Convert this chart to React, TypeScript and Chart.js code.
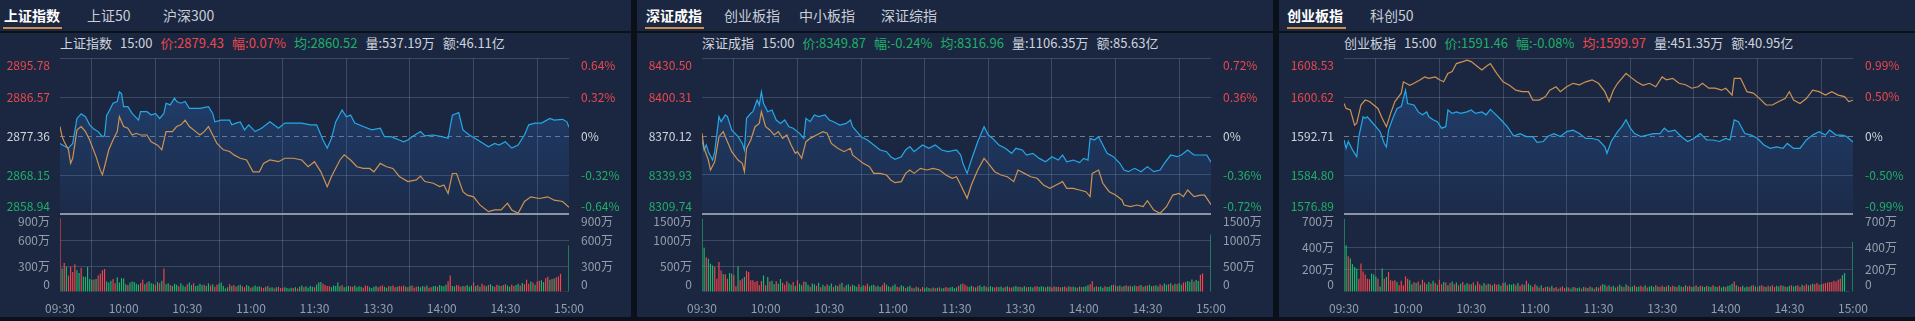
import React, { useEffect, useRef } from 'react';
import { Chart, registerables } from 'chart.js';

Chart.register(...registerables);

const FONT = '"Microsoft YaHei", "Noto Sans CJK SC", "Noto Sans", sans-serif';
Chart.defaults.font.family = FONT;

const RED = '#ec474d';
const GREEN = '#1faf68';
const TEXT = '#cfd4dc';
const AXIS_TEXT = '#959dab';
const GRID = 'rgba(148,160,186,0.28)';
const SEP = '#8e96a6';
const DASH = '#737b8a';
const BLUE = '#25a8e6';
const ORANGE = '#cf9352';
const BAR_UP = '#f2464a';
const BAR_DOWN = '#22b56c';
const PANEL_BG = '#1b2741';
const PAGE_BG = '#0b111b';

// ---------- shared axis data ----------
const TIME_MINUTES = [0, 30, 60, 90, 120, 150, 180, 210, 240];
const TIME_TICKS = ['09:30', '10:00', '10:30', '11:00', '11:30', '13:30', '14:00', '14:30', '15:00'];

// ---------- 上证指数 ----------
const SH_TABS = ['上证指数', '上证50', '沪深300'];
const SH_QUOTE = ['上证指数', '15:00', '2879.43', '0.07%', '2860.52', '537.19万', '46.11亿'];
const SH_PREV = 2877.36;
const SH_PRICE_TICKS = [2858.94, 2868.15, 2877.36, 2886.57, 2895.78];
const SH_PCT_TICKS = [-0.64, -0.32, 0, 0.32, 0.64];
const SH_PCT_LABELS = ['-0.64%', '-0.32%', '0%', '0.32%', '0.64%'];
const SH_VOL_TICKS = [0, 300, 600, 900];
const SH_VOL_LABELS = ['0', '300万', '600万', '900万'];
const SH_PRICE: [number, number][] = [[0,2875.6],[1,2875.3],[2,2875.0],[4,2874.5],[6,2875.6],[8,2881.5],[10,2882.6],[12,2881.9],[14,2880.0],[16,2879.0],[18,2878.4],[20,2877.2],[21,2877.4],[22,2882.3],[23,2883.1],[25,2885.1],[27,2885.5],[28,2887.8],[29,2887.4],[30,2884.3],[32,2884.3],[34,2882.7],[37,2881.1],[38,2883.1],[41,2883.1],[43,2882.3],[45,2882.7],[47,2881.5],[49,2882.7],[50,2885.1],[52,2884.7],[54,2886.3],[55,2885.5],[57,2885.1],[59,2885.5],[61,2883.9],[63,2883.9],[66,2883.9],[70,2884.3],[72,2882.7],[73,2880.7],[76,2881.1],[80,2881.1],[81,2880.0],[83,2880.4],[85,2880.7],[87,2878.8],[89,2880.0],[92,2878.4],[95,2879.2],[99,2880.7],[103,2879.2],[106,2880.4],[110,2880.4],[114,2880.4],[118,2880.0],[121,2880.0],[124,2876.4],[126,2874.5],[128,2876.8],[130,2880.7],[133,2883.5],[135,2881.9],[137,2882.3],[139,2880.4],[143,2879.6],[147,2878.8],[151,2879.2],[153,2877.2],[156,2877.2],[160,2876.4],[162,2876.0],[164,2876.4],[166,2877.2],[170,2878.4],[172,2877.4],[176,2877.6],[180,2877.2],[183,2876.8],[185,2882.3],[188,2882.9],[190,2878.8],[193,2877.6],[197,2876.4],[202,2874.8],[205,2875.6],[207,2875.2],[210,2876.0],[213,2874.5],[216,2875.2],[219,2877.6],[221,2880.0],[224,2880.4],[227,2880.4],[231,2881.5],[233,2881.1],[237,2881.3],[239,2880.7],[240,2879.43]];
const SH_AVG: [number, number][] = [[0,2879.6],[1,2877.2],[2,2876.0],[4,2874.1],[5,2870.9],[6,2872.1],[8,2878.8],[10,2879.6],[12,2878.4],[14,2876.4],[17,2872.5],[19,2869.3],[20,2868.2],[21,2870.1],[23,2874.1],[25,2876.4],[27,2878.4],[28,2881.9],[30,2879.6],[32,2879.2],[34,2877.6],[36,2878.0],[38,2877.6],[41,2877.6],[43,2876.0],[46,2875.2],[48,2874.1],[50,2878.4],[53,2878.4],[55,2879.6],[57,2880.0],[59,2881.1],[61,2879.6],[64,2878.4],[66,2877.6],[68,2878.4],[70,2879.6],[72,2877.6],[74,2875.6],[77,2874.1],[80,2873.7],[82,2872.9],[85,2872.1],[88,2871.7],[91,2868.9],[94,2868.9],[96,2870.9],[99,2871.7],[103,2871.3],[106,2872.1],[110,2872.1],[114,2871.7],[117,2870.1],[120,2871.3],[123,2868.9],[126,2865.4],[128,2867.8],[132,2871.7],[134,2872.9],[137,2871.7],[140,2870.1],[143,2869.7],[146,2869.7],[148,2868.9],[151,2870.9],[154,2870.1],[157,2869.7],[160,2867.8],[164,2866.6],[168,2867.0],[170,2867.9],[172,2866.6],[176,2866.2],[179,2865.4],[181,2865.8],[183,2863.8],[185,2868.5],[187,2868.5],[190,2864.2],[192,2863.4],[195,2863.0],[198,2861.1],[202,2859.5],[205,2859.9],[208,2859.9],[211,2861.5],[213,2859.9],[216,2859.1],[219,2861.9],[222,2863.0],[226,2862.6],[230,2863.0],[233,2862.2],[237,2861.9],[240,2860.52]];
const SH_VOL = [
  850,270,335,290,190,290,230,320,250,220,
  280,180,175,290,150,140,145,150,190,210,
  250,265,120,110,130,150,100,170,110,160,
  155,90,80,110,120,115,95,85,105,140,
  90,110,125,100,95,80,115,100,130,270,
  90,100,80,70,95,85,65,100,75,60,
  90,110,80,100,70,75,95,80,85,70,
  100,75,90,60,85,95,110,70,40,55,
  90,70,80,60,75,85,65,55,80,70,
  50,60,75,60,65,55,45,60,70,50,
  55,40,55,60,45,50,55,45,40,50,
  45,55,40,60,75,55,65,50,70,60,
  55,85,110,115,95,80,70,65,55,75,
  70,110,65,80,55,60,70,65,60,75,
  55,65,60,50,75,70,55,45,60,70,
  55,65,75,60,50,70,65,75,55,60,
  70,65,75,60,55,70,75,50,60,65,
  55,70,60,75,50,55,65,70,60,80,
  70,65,85,125,190,70,65,80,75,60,
  70,65,80,60,75,110,70,80,60,95,
  75,65,80,90,70,60,85,75,70,80,
  90,75,60,85,70,80,95,75,105,90,
  140,95,120,110,85,120,130,135,115,160,
  175,140,150,155,170,180,210,10,8,12,
  540,
];
// r = up minute (red bar), g = down minute (green bar)
const SH_DIR = [
  'rgrgrrrrgg','rgggggrgrr','rrgggrrggg','ggrgggggrr','grgggrgrgr','ggrgggrggg',
  'rggrggggrg','grgrrggggg','rgrrggrrgg','rggggrrgrg','grgrrrgggg','rgrggrgggg',
  'rgggrrrrgg','gggrgggrrg','gggrrrgggg','rrrggrgrrg','rrrgrgrrrg','ggrgrrggrg',
  'gggrrggrrr','grgggrgrgr','rgrggrrgrg','rggrrggrgr','rrgrgrrggr','rgrgrrrrrr','g',
];

// ---------- 深证成指 ----------
const SZ_TABS = ['深证成指', '创业板指', '中小板指', '深证综指'];
const SZ_QUOTE = ['深证成指', '15:00', '8349.87', '-0.24%', '8316.96', '1106.35万', '85.63亿'];
const SZ_PREV = 8370.12;
const SZ_PRICE_TICKS = [8309.74, 8339.93, 8370.12, 8400.31, 8430.50];
const SZ_PCT_TICKS = [-0.72, -0.36, 0, 0.36, 0.72];
const SZ_PCT_LABELS = ['-0.72%', '-0.36%', '0%', '0.36%', '0.72%'];
const SZ_VOL_TICKS = [0, 500, 1000, 1500];
const SZ_VOL_LABELS = ['0', '500万', '1000万', '1500万'];
const SZ_PRICE: [number, number][] = [[0,8367.0],[1,8359.3],[2,8363.2],[3,8358.0],[5,8351.5],[6,8358.0],[8,8385.1],[9,8381.2],[11,8386.4],[12,8385.1],[14,8374.8],[17,8369.6],[19,8364.4],[20,8359.3],[21,8383.8],[23,8387.7],[24,8388.9],[26,8398.0],[27,8394.1],[28,8404.4],[29,8395.4],[31,8388.9],[33,8390.2],[35,8382.5],[37,8379.9],[39,8382.5],[41,8377.3],[43,8376.1],[45,8373.5],[46,8372.2],[48,8368.3],[49,8383.8],[51,8381.2],[53,8386.4],[55,8385.1],[58,8386.4],[60,8382.5],[62,8381.2],[65,8378.6],[68,8379.9],[70,8382.5],[71,8377.3],[73,8373.5],[75,8369.6],[78,8367.0],[81,8363.2],[84,8359.3],[87,8358.0],[89,8354.1],[91,8352.1],[94,8354.1],[96,8359.3],[98,8361.9],[100,8358.0],[102,8360.6],[104,8363.2],[107,8360.6],[110,8363.2],[113,8359.3],[116,8358.0],[120,8359.3],[122,8355.4],[123,8349.0],[125,8341.2],[127,8351.5],[130,8365.7],[133,8377.3],[135,8370.9],[137,8368.3],[140,8363.2],[143,8360.6],[146,8356.7],[148,8360.6],[151,8359.3],[153,8355.4],[156,8356.7],[159,8352.8],[162,8350.2],[165,8354.1],[168,8351.5],[170,8355.4],[172,8350.2],[175,8351.5],[178,8349.5],[180,8352.8],[182,8351.5],[183,8368.3],[185,8367.0],[187,8369.6],[189,8363.2],[191,8356.7],[194,8354.1],[197,8349.0],[199,8343.8],[201,8342.5],[204,8345.1],[207,8342.5],[210,8346.4],[213,8342.5],[216,8343.8],[218,8349.0],[221,8355.4],[224,8354.1],[226,8355.4],[229,8359.3],[232,8355.4],[235,8355.4],[238,8355.4],[240,8349.87]];
const SZ_AVG: [number, number][] = [[0,8372.2],[1,8360.6],[3,8351.5],[4,8343.8],[6,8350.2],[8,8369.6],[10,8373.5],[12,8365.7],[14,8358.0],[17,8351.5],[19,8349.0],[20,8342.5],[21,8360.6],[23,8367.0],[25,8377.3],[27,8379.9],[28,8388.9],[30,8377.3],[32,8374.8],[34,8370.9],[36,8373.5],[38,8368.3],[40,8370.9],[42,8363.2],[44,8356.7],[45,8358.0],[47,8352.8],[49,8365.7],[51,8368.3],[54,8370.9],[57,8373.5],[59,8372.2],[61,8364.4],[64,8360.6],[67,8358.0],[70,8360.6],[71,8355.4],[73,8352.8],[76,8349.0],[79,8346.4],[81,8341.2],[84,8341.2],[87,8339.9],[89,8336.1],[91,8334.0],[94,8334.8],[96,8341.2],[98,8343.8],[100,8341.2],[103,8345.1],[106,8343.8],[109,8345.1],[112,8343.8],[115,8339.9],[118,8337.4],[120,8338.6],[122,8332.2],[125,8321.9],[127,8332.2],[130,8343.8],[133,8352.8],[135,8349.0],[138,8342.5],[141,8339.9],[144,8338.6],[147,8334.8],[149,8343.8],[152,8341.2],[155,8338.6],[158,8337.4],[161,8332.2],[164,8329.6],[167,8332.2],[170,8334.8],[172,8329.6],[175,8329.6],[178,8328.3],[181,8327.0],[183,8323.2],[184,8341.2],[187,8343.8],[189,8333.5],[192,8327.0],[195,8324.4],[198,8320.6],[199,8316.7],[202,8315.4],[205,8316.7],[208,8315.4],[210,8320.0],[213,8312.8],[216,8310.3],[219,8315.4],[222,8324.4],[225,8325.7],[227,8323.2],[229,8328.3],[232,8323.2],[235,8324.4],[237,8324.4],[240,8316.96]];
const SZ_VOL = [
  1410,850,670,640,545,510,480,255,575,415,
  340,340,255,365,350,320,110,495,225,255,
  290,405,385,225,225,190,210,130,210,320,
  130,290,200,215,150,205,160,250,180,140,
  205,170,140,190,120,225,160,130,200,190,
  140,100,165,150,120,180,90,140,110,150,
  120,165,100,130,115,150,180,90,130,150,
  110,140,120,100,150,95,130,120,160,110,
  130,140,105,120,95,130,180,140,110,90,
  120,150,100,90,130,110,75,95,120,80,
  70,100,85,60,95,70,90,75,65,85,
  70,80,90,65,75,95,80,85,100,70,
  90,120,150,165,140,110,95,120,100,85,
  110,130,95,120,100,90,110,95,85,100,
  90,105,80,95,110,90,85,100,115,95,
  100,85,110,90,95,100,85,105,110,95,
  110,100,90,105,100,85,110,95,100,90,
  95,105,85,110,95,100,90,80,105,95,
  100,110,130,150,205,90,110,95,105,80,
  110,95,100,130,140,120,110,125,100,115,
  130,110,120,105,125,110,120,135,100,115,
  125,140,110,120,130,105,150,120,165,140,
  150,170,130,160,150,175,140,180,190,210,
  195,240,200,230,210,330,355,12,10,8,
  1106,
];
const SZ_DIR = [
  'ggrgggrrrr','grrggrrgrr','grrrrrrrrg','rgrggrggrr','rggrgrggrg','grggrgrggr',
  'ggrggrgrgg','rgggrggrrg','ggrggrrggr','ggrrggrggr','grgrrgggrg','rgrggrrggg',
  'grgrrrggrg','rgggrgggrr','gggrgrrggg','rggrgggrrg','ggrggrrgrr','grrgrggrgr',
  'gggrrgrggg','rgggrgrgrg','rgrggrrgrg','rggrggrrgg','rgrgrggrrg','ggrggrrggg','g',
];

// ---------- 创业板指 ----------
const CYB_TABS = ['创业板指', '科创50'];
const CYB_QUOTE = ['创业板指', '15:00', '1591.46', '-0.08%', '1599.97', '451.35万', '40.95亿'];
const CYB_PREV = 1592.71;
const CYB_PRICE_TICKS = [1576.89, 1584.80, 1592.71, 1600.62, 1608.53];
const CYB_PCT_TICKS = [-0.99, -0.50, 0, 0.50, 0.99];
const CYB_PCT_LABELS = ['-0.99%', '-0.50%', '0%', '0.50%', '0.99%'];
const CYB_VOL_TICKS = [0, 200, 400, 700];
const CYB_VOL_LABELS = ['0', '200万', '400万', '700万'];
const CYB_PRICE: [number, number][] = [[0,1591.9],[1,1590.2],[2,1591.6],[4,1589.9],[6,1588.5],[7,1592.6],[9,1596.6],[10,1596.3],[11,1596.6],[13,1595.6],[15,1594.6],[17,1593.6],[19,1591.2],[20,1590.5],[21,1593.9],[23,1596.3],[25,1598.3],[27,1598.7],[29,1602.0],[30,1599.3],[33,1599.0],[35,1597.6],[37,1597.0],[39,1597.6],[40,1596.6],[42,1596.0],[44,1595.6],[46,1594.3],[48,1594.6],[49,1598.0],[51,1597.3],[53,1597.6],[55,1597.3],[58,1597.6],[60,1598.0],[62,1597.3],[65,1597.6],[67,1597.0],[69,1598.1],[71,1597.3],[74,1596.0],[77,1594.6],[80,1592.7],[83,1593.2],[86,1592.6],[89,1592.6],[91,1591.4],[94,1591.6],[96,1592.6],[99,1593.2],[102,1592.6],[105,1593.6],[108,1593.9],[111,1593.2],[114,1592.2],[117,1592.2],[120,1591.9],[123,1590.5],[124,1589.2],[126,1591.6],[129,1593.6],[131,1594.6],[133,1596.0],[135,1594.3],[137,1593.2],[140,1592.6],[143,1592.9],[146,1593.2],[149,1593.2],[151,1594.3],[153,1593.6],[156,1593.9],[159,1592.6],[162,1591.6],[165,1592.2],[168,1593.2],[171,1591.9],[174,1591.9],[177,1591.6],[180,1592.2],[182,1591.9],[184,1596.0],[186,1595.6],[189,1593.2],[192,1592.9],[195,1592.2],[198,1590.9],[201,1590.2],[204,1590.5],[207,1590.2],[209,1591.2],[212,1590.2],[215,1590.2],[218,1591.9],[221,1592.9],[224,1593.6],[227,1592.9],[229,1593.9],[232,1592.9],[235,1592.9],[237,1592.6],[240,1591.46]];
const CYB_AVG: [number, number][] = [[0,1599.3],[1,1598.3],[3,1598.0],[5,1594.9],[6,1595.3],[8,1599.0],[10,1600.0],[12,1599.7],[14,1599.0],[16,1598.3],[18,1596.3],[20,1594.6],[22,1597.3],[24,1599.7],[27,1601.4],[28,1603.7],[31,1603.0],[33,1603.4],[36,1604.1],[38,1604.7],[40,1604.4],[43,1604.7],[45,1604.1],[47,1603.7],[49,1605.4],[51,1605.8],[53,1607.4],[56,1607.8],[58,1608.1],[60,1607.8],[62,1607.1],[65,1606.1],[67,1606.8],[69,1607.4],[72,1605.4],[75,1603.7],[78,1603.0],[81,1602.0],[84,1601.7],[87,1601.7],[89,1600.0],[92,1600.0],[95,1600.7],[97,1602.0],[100,1602.7],[102,1601.7],[105,1602.7],[108,1603.4],[111,1603.1],[114,1603.7],[117,1604.1],[120,1603.4],[123,1601.7],[125,1599.7],[127,1602.0],[129,1603.4],[133,1605.4],[135,1604.7],[138,1603.7],[141,1603.0],[144,1603.4],[147,1602.7],[150,1604.7],[152,1604.1],[155,1604.4],[158,1603.4],[161,1603.1],[164,1602.4],[167,1602.7],[169,1603.4],[172,1602.4],[175,1602.4],[178,1602.0],[180,1602.4],[183,1601.0],[184,1604.4],[187,1604.4],[190,1601.7],[193,1601.4],[196,1600.3],[199,1599.0],[202,1599.0],[205,1599.7],[208,1600.3],[210,1601.7],[212,1600.0],[215,1599.3],[218,1600.3],[221,1602.0],[224,1601.7],[227,1601.0],[230,1601.7],[233,1601.0],[236,1600.7],[238,1599.7],[240,1599.97]];
const CYB_VOL = [
  658,420,320,300,250,225,210,120,255,185,
  158,120,115,165,158,140,120,50,210,120,
  135,180,105,100,105,90,60,100,60,140,
  120,105,70,90,80,95,65,110,85,70,
  90,75,100,80,65,110,70,90,85,60,
  80,95,70,85,60,75,90,65,80,70,
  70,85,60,95,70,55,80,65,75,70,
  60,75,65,70,55,80,85,60,70,65,
  75,60,80,55,70,65,100,75,60,45,
  70,55,40,60,35,45,50,40,55,35,
  45,30,40,50,35,45,40,30,45,40,
  35,40,30,45,40,35,50,40,30,45,
  40,55,70,65,50,60,45,55,40,50,
  65,50,45,70,55,45,50,60,45,50,
  55,45,60,40,50,55,45,60,50,45,
  55,45,50,60,45,55,50,45,60,50,
  45,60,50,55,45,50,60,45,55,50,
  45,55,50,45,60,50,45,55,40,50,
  45,55,60,75,95,60,50,45,55,40,
  50,45,55,60,50,45,55,60,50,45,
  55,50,60,45,55,50,60,55,50,45,
  55,60,50,55,60,45,65,55,70,60,
  65,75,70,80,65,70,75,80,85,90,
  90,100,95,110,120,150,170,8,6,5,
  451,
];
const CYB_DIR = [
  'ggrggggrrr','rrrgggrggr','grrrrgrrrr','rggrgrgrrg','grgrgrrgrg','rgrgrgrggr',
  'grgrrggrgr','grrggrgrgg','grgrrgrggr','rgrgrrgrgr','rgrrrgrggr','ggrgrgrgrg',
  'rrggrgrggr','ggrgrggrgg','rrgrgggrgr','rgrgrrgrgg','rgrrggrgrg','grggrggrgg',
  'rgggrgrrgg','grgrgrgrrg','rgrrggrgrg','grggrrgrrg','rgrrrgrrrr','rrrrrggggg','g',
];

// ---------- layout (positions only) ----------
const PANEL_W = 636;
const PANEL_H = 317;
const CANVAS_TOP = 50;
const CANVAS_H = 267;

interface PanelDef {
  left: number;
  tabX: number[];
  tabs: string[];
  quote: string[];
  prev: number;
  priceTicks: number[];
  pctTicks: number[];
  pctLabels: string[];
  volTicks: number[];
  volLabels: string[];
  price: [number, number][];
  avg: [number, number][];
  vol: number[];
  dir: string[];
}

const PANELS: PanelDef[] = [
  { left: -5, tabX: [9, 92, 168], tabs: SH_TABS, quote: SH_QUOTE, prev: SH_PREV, priceTicks: SH_PRICE_TICKS, pctTicks: SH_PCT_TICKS, pctLabels: SH_PCT_LABELS, volTicks: SH_VOL_TICKS, volLabels: SH_VOL_LABELS, price: SH_PRICE, avg: SH_AVG, vol: SH_VOL, dir: SH_DIR },
  { left: 637, tabX: [9, 87, 162, 244], tabs: SZ_TABS, quote: SZ_QUOTE, prev: SZ_PREV, priceTicks: SZ_PRICE_TICKS, pctTicks: SZ_PCT_TICKS, pctLabels: SZ_PCT_LABELS, volTicks: SZ_VOL_TICKS, volLabels: SZ_VOL_LABELS, price: SZ_PRICE, avg: SZ_AVG, vol: SZ_VOL, dir: SZ_DIR },
  { left: 1279, tabX: [8, 91], tabs: CYB_TABS, quote: CYB_QUOTE, prev: CYB_PREV, priceTicks: CYB_PRICE_TICKS, pctTicks: CYB_PCT_TICKS, pctLabels: CYB_PCT_LABELS, volTicks: CYB_VOL_TICKS, volLabels: CYB_VOL_LABELS, price: CYB_PRICE, avg: CYB_AVG, vol: CYB_VOL, dir: CYB_DIR },
];

function edge(label: string, i: number, n: number): string | string[] {
  if (i === 0) return [label, ''];
  if (i === n - 1) return ['', label];
  return label;
}

function signColor(d: number): string {
  if (d > 1e-9) return RED;
  if (d < -1e-9) return GREEN;
  return TEXT;
}

function makeConfig(p: PanelDef): any {
  const dir = p.dir.join('');
  const tickFont = { family: FONT, size: 12 };
  const nP = p.priceTicks.length;
  const nV = p.volTicks.length;
  const noPad = (s: any) => { s.paddingTop = 0; s.paddingBottom = 0; s.paddingLeft = 0; s.paddingRight = 0; };
  const leftFit = (s: any) => { s.width = 65; noPad(s); };
  const rightFit = (s: any) => { s.width = 62; noPad(s); };
  const fillFn = (c: any) => {
    const chart = c.chart;
    const s = chart.scales && chart.scales.yP;
    if (!s || !isFinite(s.top) || !isFinite(s.bottom) || s.bottom <= s.top) return 'rgba(40,110,200,0.2)';
    const g = chart.ctx.createLinearGradient(0, s.top, 0, s.bottom);
    g.addColorStop(0, 'rgba(45,115,205,0.36)');
    g.addColorStop(1, 'rgba(45,115,205,0.06)');
    return g;
  };
  return {
    type: 'line',
    data: {
      datasets: [
        {
          type: 'line', label: '均价', data: p.avg.map(([x, y]) => ({ x, y })),
          yAxisID: 'yP', borderColor: ORANGE, borderWidth: 1.2, pointRadius: 0, fill: false, tension: 0, order: 1,
        },
        {
          type: 'line', label: '价格', data: p.price.map(([x, y]) => ({ x, y })),
          yAxisID: 'yP', borderColor: BLUE, borderWidth: 1.2, pointRadius: 0, fill: 'start',
          backgroundColor: fillFn, tension: 0, order: 2,
        },
        {
          type: 'bar', label: '成交量', data: p.vol.map((v, i) => ({ x: i, y: v })),
          yAxisID: 'yV', backgroundColor: p.vol.map((_, i) => (dir[i] === 'r' ? BAR_UP : BAR_DOWN)),
          barPercentage: 0.55, categoryPercentage: 1, order: 3,
        },
      ],
    },
    options: {
      responsive: false,
      maintainAspectRatio: false,
      animation: false,
      devicePixelRatio: 1,
      events: [],
      layout: { padding: { top: 8, left: 0, right: 0, bottom: 0 } },
      plugins: { legend: { display: false }, tooltip: { enabled: false } },
      scales: {
        x: {
          type: 'linear', min: 0, max: 240, offset: false,
          afterBuildTicks: (s: any) => { s.ticks = TIME_MINUTES.map((v) => ({ value: v })); },
          afterFit: (s: any) => { s.height = 25; noPad(s); },
          grid: { color: GRID, drawTicks: false },
          border: { display: false },
          ticks: {
            autoSkip: false, maxRotation: 0, minRotation: 0, padding: 9, color: AXIS_TEXT, font: tickFont,
            callback: (_v: any, i: number) => TIME_TICKS[i],
          },
        },
        yP: {
          type: 'linear', position: 'left', stack: 'L', stackWeight: 2, weight: 2,
          min: p.priceTicks[0], max: p.priceTicks[nP - 1],
          afterBuildTicks: (s: any) => { s.ticks = p.priceTicks.map((v) => ({ value: v })); },
          afterFit: leftFit,
          grid: {
            drawTicks: false,
            color: (c: any) => {
              if (!c.tick) return GRID;
              if (c.index === 0) return SEP;
              if (Math.abs(c.tick.value - p.prev) < 1e-6) return 'transparent';
              return GRID;
            },
            lineWidth: (c: any) => (c.tick && c.index === 0 ? 2 : 1),
          },
          border: { display: false },
          ticks: {
            autoSkip: false, padding: 10, font: tickFont,
            color: (c: any) => (c.tick ? signColor(c.tick.value - p.prev) : TEXT),
            callback: (v: any, i: number, arr: any[]) => edge(Number(v).toFixed(2), i, arr.length),
          },
        },
        yV: {
          type: 'linear', position: 'left', stack: 'L', stackWeight: 1, weight: 1,
          min: 0, max: p.volTicks[nV - 1],
          afterBuildTicks: (s: any) => { s.ticks = p.volTicks.map((v) => ({ value: v })); },
          afterFit: leftFit,
          grid: {
            drawTicks: false,
            color: (c: any) => (c.tick && c.index > 0 && c.index < nV - 1 ? GRID : 'transparent'),
          },
          border: { display: false },
          ticks: {
            autoSkip: false, padding: 10, font: tickFont, color: AXIS_TEXT,
            callback: (_v: any, i: number, arr: any[]) => edge(p.volLabels[i], i, arr.length),
          },
        },
        yPct: {
          type: 'linear', position: 'right', stack: 'R', stackWeight: 2, weight: 1,
          min: p.pctTicks[0], max: p.pctTicks[nP - 1],
          afterBuildTicks: (s: any) => { s.ticks = p.pctTicks.map((v) => ({ value: v })); },
          afterFit: rightFit,
          grid: {
            drawTicks: false,
            color: (c: any) => (c.tick && c.tick.value === 0 ? DASH : 'transparent'),
          },
          border: { display: false, dash: [5, 4] },
          ticks: {
            autoSkip: false, padding: 12, font: tickFont,
            color: (c: any) => (c.tick ? signColor(c.tick.value) : TEXT),
            callback: (_v: any, i: number, arr: any[]) => edge(p.pctLabels[i], i, arr.length),
          },
        },
        yV2: {
          type: 'linear', position: 'right', stack: 'R', stackWeight: 1, weight: 2,
          min: 0, max: p.volTicks[nV - 1],
          afterBuildTicks: (s: any) => { s.ticks = p.volTicks.map((v) => ({ value: v })); },
          afterFit: rightFit,
          grid: { display: false, drawTicks: false },
          border: { display: false },
          ticks: {
            autoSkip: false, padding: 12, font: tickFont, color: AXIS_TEXT,
            callback: (_v: any, i: number, arr: any[]) => edge(p.volLabels[i], i, arr.length),
          },
        },
      },
    },
  };
}

function Panel({ def }: { def: PanelDef }) {
  const ref = useRef<HTMLCanvasElement | null>(null);
  useEffect(() => {
    const canvas = ref.current;
    if (!canvas) return;
    const chart = new Chart(canvas, makeConfig(def));
    return () => chart.destroy();
  }, [def]);

  const q = def.quote;
  const segs: [string, string][] = [
    [q[0], TEXT],
    [q[1], TEXT],
    ['价:' + q[2], signColor(parseFloat(q[2]) - def.prev)],
    ['幅:' + q[3], signColor(parseFloat(q[3]))],
    ['均:' + q[4], signColor(parseFloat(q[4]) - def.prev)],
    ['量:' + q[5], TEXT],
    ['额:' + q[6], TEXT],
  ];

  return (
    <div style={{ position: 'absolute', left: def.left, top: 0, width: PANEL_W, height: PANEL_H }}>
      <div style={{ position: 'absolute', left: 0, top: 0, width: PANEL_W, height: 31, background: PANEL_BG }}>
        {def.tabs.map((t, i) => (
          <div
            key={t}
            style={{
              position: 'absolute', left: def.tabX[i], top: 5, height: 20, lineHeight: '20px',
              fontSize: 14, fontFamily: FONT, whiteSpace: 'nowrap',
              color: i === 0 ? '#ffffff' : '#c9ced6', fontWeight: i === 0 ? 700 : 400,
            }}
          >
            {t}
          </div>
        ))}
        <div style={{ position: 'absolute', left: 8, top: 27, width: 59, height: 2, background: '#c88d4f' }} />
      </div>
      <div style={{ position: 'absolute', left: 0, top: 33, width: PANEL_W, height: PANEL_H - 33, background: PANEL_BG }}>
        <div
          style={{
            position: 'absolute', left: 65, top: 1, height: 18, lineHeight: '18px', display: 'flex',
            fontSize: 13, fontFamily: FONT, whiteSpace: 'nowrap',
          }}
        >
          {segs.map(([s, c], i) => (
            <span key={i} style={{ color: c, marginRight: 8 }}>{s}</span>
          ))}
        </div>
      </div>
      <canvas
        ref={ref}
        width={PANEL_W}
        height={CANVAS_H}
        style={{ position: 'absolute', left: 0, top: CANVAS_TOP, width: PANEL_W, height: CANVAS_H }}
      />
    </div>
  );
}

export default function App() {
  return (
    <div
      style={{
        position: 'fixed', left: 0, top: 0, width: 1915, height: 321, overflow: 'hidden', background: PAGE_BG,
      }}
    >
      {PANELS.map((p, i) => (
        <Panel key={i} def={p} />
      ))}
    </div>
  );
}
